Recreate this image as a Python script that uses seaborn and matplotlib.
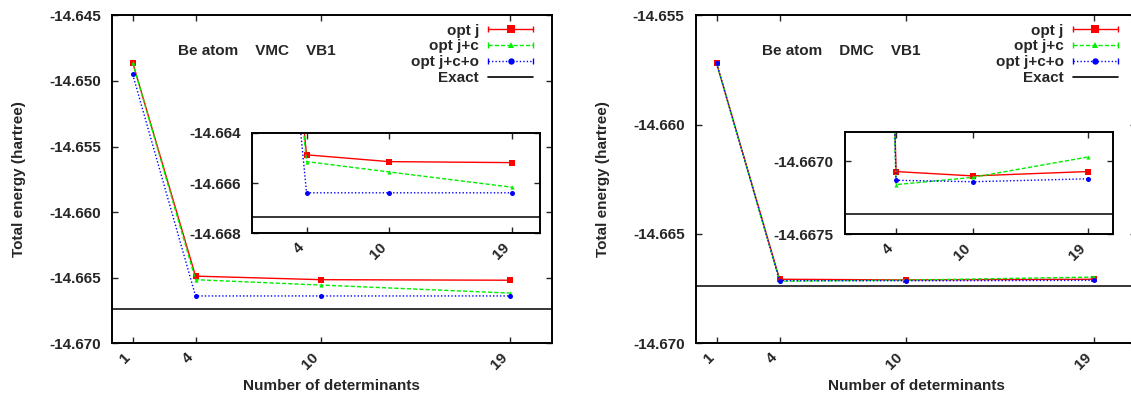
import numpy as np
import pandas as pd
import matplotlib
matplotlib.use("Agg")
import matplotlib.pyplot as plt
from matplotlib.lines import Line2D
from matplotlib.legend_handler import HandlerLine2D, HandlerTuple
import seaborn as sns

# number of determinants
ndet = [1, 4, 10, 19]
xticks_main = [1, 4, 10, 19]
xticks_inset = [4, 10, 19]

# VMC energies (hartree)
vmc_j = [-14.6486, -14.66488, -14.66515, -14.66519]
vmc_jc = [-14.6486, -14.66515, -14.66556, -14.66617]
vmc_jco = [-14.6495, -14.66639, -14.66639, -14.66639]

# DMC energies (hartree)
dmc_j = [-14.6572, -14.66707, -14.66710, -14.66707]
dmc_jc = [-14.6572, -14.66716, -14.66711, -14.66697]
dmc_jco = [-14.6572, -14.66713, -14.66714, -14.66712]

exact = -14.66736

labels = ["opt j", "opt j+c", "opt j+c+o"]
vmc_yticks = [-14.645, -14.650, -14.655, -14.660, -14.665, -14.670]
dmc_yticks = [-14.655, -14.660, -14.665, -14.670]
vmc_inset_yticks = [-14.664, -14.666, -14.668]
dmc_inset_yticks = [-14.6670, -14.6675]

sns.set_style("ticks")
plt.rcParams['font.family'] = ['Liberation Sans', 'DejaVu Sans']
plt.rcParams['font.weight'] = 'bold'
plt.rcParams['axes.labelweight'] = 'bold'
plt.rcParams['font.size'] = 11

styles = {
    "opt j": dict(color="#ff0000", marker="s", ms=4.5, ls="-", lw=1.0),
    "opt j+c": dict(color="#00ee00", marker="^", ms=3.0, ls=(0, (3, 1.5)), lw=1.0),
    "opt j+c+o": dict(color="#0000ff", marker="o", ms=3.6, ls=(0, (1, 1.5)), lw=1.0),
}


def draw(ax, series):
    df = pd.DataFrame({"ndet": ndet * 3,
                       "energy": sum(series, []),
                       "method": np.repeat(labels, len(ndet))})
    for lab in labels:
        st = styles[lab]
        sns.lineplot(data=df[df.method == lab], x="ndet", y="energy", ax=ax,
                     color=st["color"], marker=st["marker"], markersize=st["ms"],
                     markeredgewidth=0, linestyle=st["ls"], linewidth=st["lw"],
                     legend=False)
    ax.axhline(exact, color="black", lw=1.1, zorder=1)


def style_axes(ax, xt, yt, fmt, ylim):
    ax.set_xlim(0, 21)
    ax.set_ylim(*ylim)
    ax.set_xticks(xt)
    ax.set_xticklabels([str(v) for v in xt], rotation=45, ha="right")
    ax.set_yticks(yt)
    ax.set_yticklabels([fmt % v for v in yt])
    ax.tick_params(direction="in", top=True, right=True, length=4, width=1,
                   labelsize=11)
    ax.tick_params(axis="x", pad=5)
    ax.tick_params(axis="y", pad=8)
    for s in ax.spines.values():
        s.set_linewidth(1.4)
        s.set_color("black")
    ax.set_xlabel("")
    ax.set_ylabel("")


def add_legend(ax):
    handles = []
    hmap = {}
    for lab in labels:
        st = styles[lab]
        cap = Line2D([], [], color=st["color"], ls=st["ls"], lw=st["lw"],
                     marker="|", ms=5, mew=1)
        mk = Line2D([], [], color=st["color"], ls="none", marker=st["marker"],
                    ms=st["ms"] + 1, mew=0)
        hmap[cap] = HandlerLine2D(numpoints=2, marker_pad=0)
        handles.append((cap, mk))
    handles.append(Line2D([], [], color="black", lw=1.2))
    hmap[tuple] = HandlerTuple(ndivide=1)
    ax.legend(handles, labels + ["Exact"], handler_map=hmap, loc="upper right",
              bbox_to_anchor=(0.958, 0.975), frameon=False, markerfirst=False,
              handlelength=2.95, handletextpad=0.6, labelspacing=0.12,
              borderpad=0, borderaxespad=0, fontsize=11, numpoints=1)


fig = plt.figure(figsize=(11.31, 3.98), dpi=100)

panels = [
    dict(main=[0.0988, 0.1374, 0.389, 0.824], inset=[0.2225, 0.4138, 0.2549, 0.2528],
         data=[vmc_j, vmc_jc, vmc_jco], yt=vmc_yticks, ylim=(-14.670, -14.645),
         iyt=vmc_inset_yticks, iylim=(-14.668, -14.664), ifmt="%.3f",
         title="Be atom    VMC    VB1"),
    dict(main=[0.6151, 0.1374, 0.3896, 0.824], inset=[0.7471, 0.412, 0.2372, 0.2555],
         data=[dmc_j, dmc_jc, dmc_jco], yt=dmc_yticks, ylim=(-14.670, -14.655),
         iyt=dmc_inset_yticks, iylim=(-14.6675, -14.6668), ifmt="%.4f",
         title="Be atom    DMC    VB1"),
]

for p in panels:
    ax = fig.add_axes(p["main"])
    draw(ax, p["data"])
    style_axes(ax, xticks_main, p["yt"], "%.3f", p["ylim"])
    ax.set_xlabel("Number of determinants", fontsize=11, fontweight="bold")
    ax.set_ylabel("Total energy (hartree)", fontsize=11, fontweight="bold")
    ax.xaxis.set_label_coords(0.5, -0.11)
    ax.yaxis.set_label_coords(-0.195, 0.5)
    ax.text(0.15, 0.892, p["title"], transform=ax.transAxes, va="center",
            ha="left", fontsize=11, fontweight="bold")
    add_legend(ax)

    ins = fig.add_axes(p["inset"], zorder=5)
    ins.set_facecolor("white")
    draw(ins, p["data"])
    style_axes(ins, xticks_inset, p["iyt"], p["ifmt"], p["iylim"])

fig.savefig("out.png", dpi=100)
